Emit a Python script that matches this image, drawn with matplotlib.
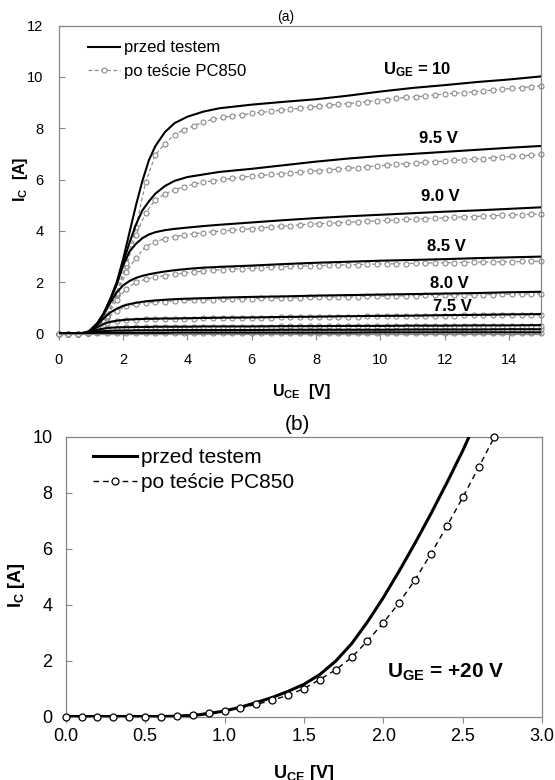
"""
IGBT output characteristics before / after the PC850 test
(a) family of curves for several U_GE, (b) U_GE = +20 V
"""

import numpy as np
import matplotlib
matplotlib.use('Agg')
import matplotlib.pyplot as plt

plt.rcParams['font.family'] = ['Liberation Sans', 'DejaVu Sans']
plt.rcParams['mathtext.fontset'] = 'custom'
plt.rcParams['mathtext.rm'] = 'Liberation Sans'
plt.rcParams['mathtext.bf'] = 'Liberation Sans:bold'
plt.rcParams['mathtext.it'] = 'Liberation Sans:italic'

# ---------------- panel (a) data ----------------
# U_CE points of the "przed testem" (solid) curves
uce_a_przed = [0, 0.6, 0.9, 1.0, 1.2, 1.4, 1.6, 1.8, 2.0, 2.2, 2.4, 2.6, 2.8, 3.0,
               3.3, 3.6, 4.0, 4.5, 5, 6, 7, 8, 9, 10, 11, 12, 13, 14, 15]
# U_CE points of the "po teście PC850" curves (measured every 0.3 V)
uce_a_po = np.linspace(0, 15, 51)

ic_10_przed = [0, 0, 0.05, 0.15, 0.4, 0.8, 1.35, 2.0, 2.9, 3.95, 5.0, 5.95, 6.75, 7.3,
               7.85, 8.2, 8.45, 8.65, 8.78, 8.92, 9.03, 9.13, 9.27, 9.43, 9.57, 9.68, 9.8, 9.9, 10.02]
ic_95_przed = [0, 0, 0.05, 0.15, 0.4, 0.8, 1.33, 1.95, 2.75, 3.55, 4.25, 4.8, 5.15, 5.45,
               5.75, 5.95, 6.1, 6.2, 6.3, 6.42, 6.56, 6.7, 6.82, 6.92, 7.0, 7.08, 7.16, 7.24, 7.31]
ic_90_przed = [0, 0, 0.05, 0.15, 0.4, 0.78, 1.3, 1.9, 2.65, 3.2, 3.5, 3.72, 3.86, 3.95,
               4.03, 4.08, 4.13, 4.19, 4.24, 4.33, 4.42, 4.5, 4.57, 4.63, 4.69, 4.75, 4.8, 4.86, 4.92]
ic_85_przed = [0, 0, 0.05, 0.15, 0.4, 0.75, 1.2, 1.6, 1.88, 2.05, 2.17, 2.25, 2.31, 2.36,
               2.42, 2.47, 2.52, 2.57, 2.6, 2.65, 2.71, 2.76, 2.8, 2.84, 2.87, 2.9, 2.94, 2.97, 3.0]
ic_80_przed = [0, 0, 0.05, 0.13, 0.35, 0.6, 0.82, 0.97, 1.08, 1.15, 1.2, 1.24, 1.27, 1.29,
               1.32, 1.34, 1.36, 1.38, 1.4, 1.43, 1.45, 1.48, 1.5, 1.52, 1.54, 1.56, 1.58, 1.61, 1.63]
ic_75_przed = [0, 0, 0.04, 0.1, 0.25, 0.38, 0.46, 0.5, 0.53, 0.55, 0.56, 0.57, 0.58, 0.58,
               0.59, 0.59, 0.6, 0.61, 0.62, 0.63, 0.65, 0.66, 0.68, 0.69, 0.7, 0.72, 0.73, 0.75, 0.76]
ic_70_przed = [0, 0, 0.03, 0.07, 0.15, 0.2, 0.23, 0.24, 0.25, 0.25, 0.26, 0.26, 0.26, 0.27,
               0.27, 0.27, 0.27, 0.28, 0.28, 0.28, 0.29, 0.29, 0.3, 0.3, 0.31, 0.31, 0.32, 0.32, 0.33]
ic_65_przed = [0, 0, 0.02, 0.04, 0.08, 0.1, 0.11, 0.12, 0.12, 0.12, 0.13, 0.13, 0.13, 0.13,
               0.13, 0.14, 0.14, 0.14, 0.14, 0.14, 0.15, 0.15, 0.15, 0.15, 0.16, 0.16, 0.16, 0.17, 0.17]
ic_60_przed = [0, 0, 0.01, 0.02, 0.03, 0.03, 0.03, 0.03, 0.03, 0.03, 0.03, 0.03, 0.03, 0.03,
               0.03, 0.04, 0.04, 0.04, 0.04, 0.04, 0.04, 0.04, 0.04, 0.05, 0.05, 0.05, 0.05, 0.05, 0.05]

ic_10_po = [0, 0, 0, 0.02, 0.25, 0.7, 1.6, 2.75, 4.15, 5.9,
            6.95, 7.4, 7.75, 7.95, 8.1, 8.25, 8.35, 8.42, 8.48, 8.53,
            8.58, 8.62, 8.66, 8.7, 8.74, 8.78, 8.82, 8.86, 8.9, 8.93,
            8.96, 9.0, 9.04, 9.08, 9.12, 9.16, 9.2, 9.23, 9.26, 9.3,
            9.33, 9.36, 9.39, 9.42, 9.45, 9.49, 9.52, 9.55, 9.58, 9.62,
            9.65]
ic_95_po = [0, 0, 0, 0.02, 0.25, 0.7, 1.55, 2.65, 3.85, 4.7,
            5.2, 5.45, 5.6, 5.72, 5.82, 5.9, 5.96, 6.01, 6.05, 6.09,
            6.13, 6.16, 6.2, 6.23, 6.26, 6.29, 6.32, 6.35, 6.38, 6.41,
            6.44, 6.47, 6.5, 6.53, 6.56, 6.59, 6.62, 6.64, 6.67, 6.7,
            6.72, 6.75, 6.77, 6.8, 6.82, 6.85, 6.88, 6.9, 6.93, 6.95,
            6.98]
ic_90_po = [0, 0, 0, 0.02, 0.25, 0.7, 1.5, 2.4, 2.95, 3.39,
            3.58, 3.7, 3.78, 3.84, 3.89, 3.93, 3.97, 4.0, 4.03, 4.06,
            4.09, 4.12, 4.15, 4.18, 4.21, 4.24, 4.26, 4.28, 4.3, 4.32,
            4.34, 4.36, 4.38, 4.39, 4.41, 4.43, 4.45, 4.46, 4.48, 4.5,
            4.51, 4.53, 4.55, 4.56, 4.58, 4.59, 4.61, 4.62, 4.64, 4.65,
            4.66]
ic_85_po = [0, 0, 0, 0.02, 0.25, 0.68, 1.3, 1.75, 2.0, 2.12,
            2.2, 2.26, 2.31, 2.36, 2.4, 2.44, 2.47, 2.49, 2.51, 2.53,
            2.55, 2.57, 2.59, 2.6, 2.62, 2.63, 2.64, 2.65, 2.66, 2.67,
            2.68, 2.69, 2.7, 2.71, 2.72, 2.72, 2.73, 2.74, 2.75, 2.75,
            2.76, 2.77, 2.77, 2.78, 2.79, 2.79, 2.8, 2.8, 2.81, 2.81,
            2.82]
ic_80_po = [0, 0, 0, 0.02, 0.25, 0.6, 0.9, 1.06, 1.14, 1.19,
            1.22, 1.25, 1.27, 1.29, 1.3, 1.31, 1.32, 1.33, 1.34, 1.35,
            1.36, 1.37, 1.38, 1.38, 1.39, 1.4, 1.41, 1.41, 1.42, 1.43,
            1.43, 1.44, 1.45, 1.45, 1.46, 1.47, 1.47, 1.48, 1.49, 1.49,
            1.5, 1.5, 1.51, 1.51, 1.52, 1.52, 1.53, 1.53, 1.54, 1.54,
            1.55]
ic_75_po = [0, 0, 0, 0.02, 0.2, 0.4, 0.48, 0.52, 0.54, 0.55,
            0.56, 0.57, 0.57, 0.58, 0.58, 0.59, 0.59, 0.6, 0.6, 0.61,
            0.61, 0.62, 0.62, 0.63, 0.63, 0.64, 0.64, 0.65, 0.65, 0.66,
            0.66, 0.66, 0.67, 0.67, 0.68, 0.68, 0.68, 0.69, 0.69, 0.7,
            0.7, 0.7, 0.71, 0.71, 0.71, 0.72, 0.72, 0.72, 0.73, 0.73,
            0.73]
ic_70_po = [0, 0, 0, 0.02, 0.13, 0.2, 0.23, 0.24, 0.24, 0.25,
            0.25, 0.25, 0.25, 0.26, 0.26, 0.26, 0.26, 0.26, 0.27, 0.27,
            0.27, 0.27, 0.27, 0.28, 0.28, 0.28, 0.28, 0.28, 0.28, 0.29,
            0.29, 0.29, 0.29, 0.29, 0.29, 0.3, 0.3, 0.3, 0.3, 0.3,
            0.3, 0.3, 0.31, 0.31, 0.31, 0.31, 0.31, 0.31, 0.31, 0.31,
            0.31]
ic_65_po = [0, 0, 0, 0.01, 0.07, 0.1, 0.11, 0.12, 0.12, 0.12,
            0.12, 0.12, 0.13, 0.13, 0.13, 0.13, 0.13, 0.13, 0.13, 0.13,
            0.14, 0.14, 0.14, 0.14, 0.14, 0.14, 0.14, 0.14, 0.14, 0.15,
            0.15, 0.15, 0.15, 0.15, 0.15, 0.15, 0.15, 0.15, 0.16, 0.16,
            0.16, 0.16, 0.16, 0.16, 0.16, 0.16, 0.16, 0.16, 0.16, 0.16,
            0.16]
ic_60_po = [0, 0, 0, 0.01, 0.02, 0.03, 0.03, 0.03, 0.03, 0.03,
            0.03, 0.03, 0.03, 0.03, 0.03, 0.03, 0.03, 0.03, 0.03, 0.03,
            0.03, 0.03, 0.03, 0.03, 0.03, 0.03, 0.03, 0.03, 0.03, 0.03,
            0.04, 0.04, 0.04, 0.04, 0.04, 0.04, 0.04, 0.04, 0.04, 0.04,
            0.04, 0.04, 0.04, 0.04, 0.04, 0.04, 0.04, 0.04, 0.04, 0.04,
            0.04]

curves_przed = [ic_60_przed, ic_65_przed, ic_70_przed, ic_75_przed, ic_80_przed,
                ic_85_przed, ic_90_przed, ic_95_przed, ic_10_przed]
curves_po = [ic_60_po, ic_65_po, ic_70_po, ic_75_po, ic_80_po,
             ic_85_po, ic_90_po, ic_95_po, ic_10_po]

# curve labels (text, U_CE, I_C)
uge_labels = ['9.5 V', '9.0 V', '8.5 V', '8.0 V', '7.5 V']
uge_label_x = [11.8, 11.88, 12.07, 12.14, 12.25]
uge_label_y = [7.61, 5.36, 3.41, 1.96, 1.07]

# ---------------- panel (b) data ----------------
uce_b_przed = [0, 0.1, 0.2, 0.3, 0.4, 0.5, 0.6, 0.7, 0.8, 0.9, 1.0, 1.1, 1.2, 1.3,
               1.4, 1.5, 1.6, 1.7, 1.8, 1.9, 2.0, 2.1, 2.2, 2.3, 2.4, 2.5, 2.54]
ic_b_przed = [0, 0, 0, 0, 0, 0, 0, 0.01, 0.04, 0.1, 0.2, 0.33, 0.5, 0.68,
              0.9, 1.15, 1.5, 1.98, 2.6, 3.38, 4.25, 5.2, 6.2, 7.25, 8.35, 9.5, 10.0]
uce_b_po = [0, 0.1, 0.2, 0.3, 0.4, 0.5, 0.6, 0.7, 0.8, 0.9, 1.0, 1.1, 1.2, 1.3,
            1.4, 1.5, 1.6, 1.7, 1.8, 1.9, 2.0, 2.1, 2.2, 2.3, 2.4, 2.5, 2.6, 2.7]
ic_b_po = [0, 0, 0, 0, 0, 0, 0, 0.03, 0.07, 0.13, 0.21, 0.31, 0.43, 0.58,
           0.76, 1.0, 1.32, 1.67, 2.11, 2.7, 3.35, 4.07, 4.89, 5.82, 6.8, 7.83, 8.9, 10.0]

SPINE = '#868686'

fig = plt.figure(figsize=(5.55, 7.8), dpi=100)

# ================= (a) =================
ax1 = fig.add_axes([0.106, 0.5723, 0.8688, 0.3949])
for i, (przed, po) in enumerate(zip(curves_przed, curves_po)):
    l_po, = ax1.plot(uce_a_po, po, color='#8f8f8f', lw=0.9, ls=(0, (3, 2)),
                     marker='o', ms=3.6, mfc='white', mec='#8a8a8a', mew=0.8,
                     clip_on=False, zorder=2)
    l_przed, = ax1.plot(uce_a_przed, przed, color='black', lw=1.5, zorder=3)

ax1.set_xlim(0, 15)
ax1.set_ylim(0, 12)
ax1.set_xticks(range(0, 15, 2))
ax1.set_yticks(range(0, 13, 2))
ax1.tick_params(axis='x', direction='out', length=4, color=SPINE, labelsize=10.5, pad=10)
ax1.tick_params(axis='y', direction='in', length=4, color=SPINE, labelsize=10.5, pad=11)
for s in ax1.spines.values():
    s.set_color(SPINE)
    s.set_linewidth(0.9)

ax1.set_xlabel(r'$\mathbf{U_{CE}}$  [V]', fontsize=11.5, fontweight='bold')
ax1.xaxis.set_label_coords(0.504, -0.1886)
ax1.xaxis.label.set_va('center')
ax1.set_ylabel(r'$\mathbf{I_{C}}$  [A]', fontsize=11.5, fontweight='bold')
ax1.yaxis.set_label_coords(-0.08, 0.5)
ax1.yaxis.label.set_va('center')
ax1.text(0.471, 1.028, '(a)', transform=ax1.transAxes, ha='center', va='center', fontsize=10)

ax1.legend([l_przed, l_po], ['przed testem', 'po teście PC850'], loc='upper left',
           bbox_to_anchor=(0.061, 0.952), frameon=False, fontsize=12, borderpad=0,
           borderaxespad=0, handlelength=1.9, handletextpad=0.22, labelspacing=0.5,
           numpoints=1)

ax1.text(11.14, 10.27, r'$\mathbf{U_{GE}}$ = 10', ha='center', va='center',
         fontsize=12, fontweight='bold')
for txt, x, y in zip(uge_labels, uge_label_x, uge_label_y):
    ax1.text(x, y, txt, ha='center', va='center', fontsize=12, fontweight='bold')

# ================= (b) =================
ax2 = fig.add_axes([0.1184, 0.0814, 0.8584, 0.3587])
lb_przed, = ax2.plot(uce_b_przed, ic_b_przed, color='black', lw=2.2, zorder=3)
lb_po, = ax2.plot(uce_b_po, ic_b_po, color='black', lw=1.0, ls=(0, (4, 3)),
                  marker='o', ms=5, mfc='white', mec='black', mew=0.9,
                  clip_on=False, zorder=4)

ax2.set_xlim(0, 3)
ax2.set_ylim(0, 10)
ax2.set_xticks([0, 0.5, 1.0, 1.5, 2.0, 2.5, 3.0])
ax2.set_xticklabels(['0.0', '0.5', '1.0', '1.5', '2.0', '2.5', '3.0'])
ax2.set_yticks(range(0, 11, 2))
ax2.tick_params(axis='x', direction='out', length=4, color=SPINE, labelsize=13, pad=4)
ax2.tick_params(axis='y', direction='in', length=4, color=SPINE, labelsize=13, pad=9.5)
for s in ax2.spines.values():
    s.set_color(SPINE)
    s.set_linewidth(0.9)

ax2.set_xlabel(r'$\mathbf{U_{CE}}$ [V]', fontsize=13, fontweight='bold')
ax2.xaxis.set_label_coords(0.5, -0.202)
ax2.xaxis.label.set_va('center')
ax2.set_ylabel(r'$\mathbf{I_{C}}$ [A]', fontsize=13, fontweight='bold')
ax2.yaxis.set_label_coords(-0.103, 0.47)
ax2.yaxis.label.set_va('center')
ax2.text(0.486, 1.042, '(b)', transform=ax2.transAxes, ha='center', va='center', fontsize=15)

ax2.legend([lb_przed, lb_po], ['przed testem', 'po teście PC850'], loc='upper left',
           bbox_to_anchor=(0.057, 0.96), frameon=False, fontsize=15, borderpad=0,
           borderaxespad=0, handlelength=2.1, handletextpad=0.23, labelspacing=0.3,
           numpoints=1)

ax2.text(2.395, 1.59, r'$\mathbf{U_{GE}}$ = +20 V', ha='center', va='center',
         fontsize=15, fontweight='bold')

fig.savefig('out.png', dpi=100)
